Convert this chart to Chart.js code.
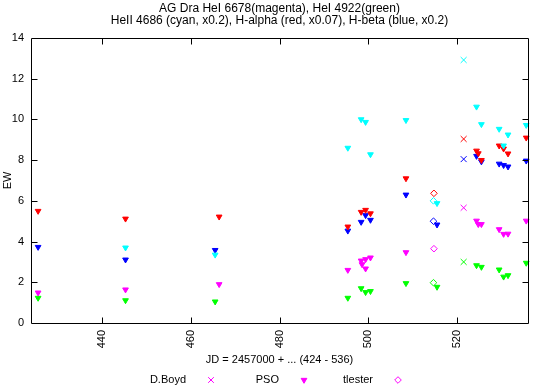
<!DOCTYPE html>
<html>
<head>
<meta charset="utf-8">
<script src="https://cdn.jsdelivr.net/npm/chart.js@4.4.1/dist/chart.umd.min.js"></script>
<style>
  html, body { margin: 0; padding: 0; background: #fff; }
  #wrap { width: 535px; height: 389px; }
</style>
</head>
<body>
<div id="wrap"><canvas id="c" width="535" height="389"></canvas></div>
<script>
// JD - 2457000, equivalent width (scaled per line as in the title)
var titleLines = ['AG Dra HeI 6678(magenta), HeI 4922(green)',
  'HeII 4686 (cyan, x0.2), H-alpha (red, x0.07), H-beta (blue, x0.2)'];
var xTicks = [440, 460, 480, 500, 520];

// PSO (filled down triangles)
var psoMagenta = [[425.6, 1.49], [445.3, 1.64], [466.4, 1.9], [495.4, 2.6], [498.4, 3.06], [498.6, 2.88],
  [499.4, 3.13], [499.4, 2.67], [500.5, 3.21], [508.5, 3.47], [524.4, 5.02], [524.8, 4.85], [525.5, 4.85],
  [529.5, 4.6], [530.5, 4.37], [531.5, 4.38], [535.6, 5.02]];
var psoGreen = [[425.6, 1.23], [445.3, 1.11], [465.5, 1.05], [495.4, 1.23], [498.4, 1.7], [499.4, 1.51],
  [500.5, 1.56], [508.5, 1.95], [515.5, 1.77], [524.4, 2.83], [525.5, 2.75], [529.5, 2.62], [530.5, 2.27],
  [531.5, 2.34], [535.6, 2.95]];
var psoCyan = [[445.3, 3.7], [465.5, 3.35], [495.4, 8.6], [498.4, 10.0], [499.4, 9.87], [500.5, 8.28],
  [508.5, 9.96], [515.5, 5.88], [524.4, 10.62], [525.5, 9.76], [529.5, 9.53], [530.5, 8.71], [531.5, 9.25],
  [535.6, 9.72]];
var psoRed = [[425.6, 5.5], [445.3, 5.12], [466.4, 5.22], [495.4, 4.73], [498.4, 5.45], [499.4, 5.55],
  [500.5, 5.38], [508.5, 7.1], [524.4, 8.46], [524.8, 8.33], [525.5, 8.0], [529.5, 8.71], [530.5, 8.56],
  [531.5, 8.32], [535.6, 9.1]];
var psoBlue = [[425.6, 3.73], [445.3, 3.11], [465.5, 3.58], [495.4, 4.53], [498.4, 4.96], [499.4, 5.29],
  [500.5, 5.06], [508.5, 6.3], [515.5, 4.83], [524.4, 8.2], [525.5, 7.93], [529.5, 7.82], [530.5, 7.75],
  [531.5, 7.68], [535.6, 7.97]];

// D.Boyd (crosses)
var boydMagenta = [[521.5, 5.66]];
var boydGreen = [[521.5, 3.0]];
var boydCyan = [[521.5, 12.92]];
var boydRed = [[521.5, 9.04]];
var boydBlue = [[521.5, 8.05]];

// tlester (open diamonds)
var tlMagenta = [[514.8, 3.65]];
var tlGreen = [[514.7, 1.98]];
var tlCyan = [[514.7, 6.0]];
var tlRed = [[514.8, 6.37]];
var tlBlue = [[514.7, 5.0]];

var MAG = '#ff00ff', GRN = '#00ff00', CYN = '#00ffff', RED = '#ff0000', BLU = '#0000ff';
var FONT = '"Liberation Sans", Arial, sans-serif';

function pts(list) {
  return list.map(p => ({ x: p[0], y: p[1] }));
}

function pso(list, color) {
  return { data: pts(list), pointStyle: 'triangle', rotation: 180, pointRadius: 3.3,
    backgroundColor: color, borderColor: color, borderWidth: 1 };
}
function boyd(list, color) {
  return { data: pts(list), pointStyle: 'crossRot', pointRadius: 4.2,
    backgroundColor: color, borderColor: color, borderWidth: 1 };
}
function tl(list, color) {
  return { data: pts(list), pointStyle: 'rectRot', pointRadius: 3.3,
    backgroundColor: 'rgba(0,0,0,0)', borderColor: color, borderWidth: 1 };
}

var datasets = [
  pso(psoMagenta, MAG), pso(psoGreen, GRN), pso(psoCyan, CYN), pso(psoRed, RED), pso(psoBlue, BLU),
  boyd(boydMagenta, MAG), boyd(boydGreen, GRN), boyd(boydCyan, CYN), boyd(boydRed, RED), boyd(boydBlue, BLU),
  tl(tlMagenta, MAG), tl(tlGreen, GRN), tl(tlCyan, CYN), tl(tlRed, RED), tl(tlBlue, BLU)
];
datasets.forEach(d => { d.clip = false; d.showLine = false; d.pointHoverRadius = d.pointRadius; });

// gnuplot style frame with inward ticks, title and legend
var gnuplotDeco = {
  id: 'gnuplotDeco',
  afterDraw(chart) {
    var ctx = chart.ctx;
    var a = chart.chartArea;
    var xs = chart.scales.x, ys = chart.scales.y;
    var L = Math.round(a.left) + 0.5, R = Math.round(a.right) + 0.5;
    var T = Math.round(a.top) + 0.5, B = Math.round(a.bottom) + 0.5;
    var tl = 6;
    ctx.save();
    ctx.strokeStyle = '#000';
    ctx.lineWidth = 1;
    ctx.beginPath();
    ctx.rect(L, T, R - L, B - T);
    xTicks.forEach(v => {
      var px = Math.round(xs.getPixelForValue(v)) + 0.5;
      ctx.moveTo(px, B); ctx.lineTo(px, B - tl);
      ctx.moveTo(px, T); ctx.lineTo(px, T + tl);
    });
    ys.ticks.forEach(t => {
      var py = Math.round(ys.getPixelForValue(t.value)) + 0.5;
      if (t.value === 0 || t.value === 14) return;
      ctx.moveTo(L, py); ctx.lineTo(L + tl, py);
      ctx.moveTo(R, py); ctx.lineTo(R - tl, py);
    });
    ctx.stroke();

    // title
    var cx = (a.left + a.right) / 2;
    ctx.fillStyle = '#000';
    ctx.font = '12px ' + FONT;
    ctx.textAlign = 'center';
    ctx.textBaseline = 'middle';
    ctx.fillText(titleLines[0], cx, 9);
    ctx.fillText(titleLines[1], cx, 21);

    // legend: text then sample
    var legend = [['D.Boyd', 'crossRot', 4, 186], ['PSO', 'triangle', 3.3, 279], ['tlester', 'rectRot', 3.3, 373]];
    var ly = 380;
    ctx.font = '11px ' + FONT;
    legend.forEach(e => {
      ctx.textAlign = 'right';
      ctx.fillStyle = '#000';
      ctx.fillText(e[0], e[3], ly);
      ctx.strokeStyle = MAG;
      ctx.fillStyle = e[1] === 'rectRot' ? 'rgba(0,0,0,0)' : MAG;
      ctx.lineWidth = 1;
      Chart.helpers.drawPoint(ctx, { pointStyle: e[1], radius: e[2], rotation: e[1] === 'triangle' ? 180 : 0, borderWidth: 1 }, e[3] + 25, ly);
    });
    ctx.restore();
  }
};

new Chart(document.getElementById('c'), {
  type: 'scatter',
  data: { datasets: datasets },
  options: {
    responsive: false,
    animation: false,
    layout: { padding: { top: 38, right: 7, bottom: 20, left: 0 } },
    plugins: { legend: { display: false }, title: { display: false }, tooltip: { enabled: false } },
    scales: {
      x: {
        type: 'linear', min: 424, max: 536,
        afterBuildTicks(scale) { scale.ticks = xTicks.map(v => ({ value: v })); },
        afterFit(scale) { scale.height = 46; },
        grid: { display: false, drawTicks: false },
        border: { display: false },
        ticks: { color: '#000', font: { family: FONT, size: 11 }, padding: 7, minRotation: 90, maxRotation: 90, autoSkip: false },
        title: { display: true, text: 'JD = 2457000 + ... (424 - 536)', color: '#000', font: { family: FONT, size: 11 }, padding: { top: 0, bottom: 2 } }
      },
      y: {
        min: 0, max: 14,
        afterFit(scale) { scale.width = 31; },
        grid: { display: false, drawTicks: false },
        border: { display: false },
        ticks: { stepSize: 2, color: '#000', font: { family: FONT, size: 11 }, padding: 7 },
        title: { display: true, text: 'EW', color: '#000', font: { family: FONT, size: 11 }, padding: 1 }
      }
    }
  },
  plugins: [gnuplotDeco]
});
</script>
</body>
</html>
